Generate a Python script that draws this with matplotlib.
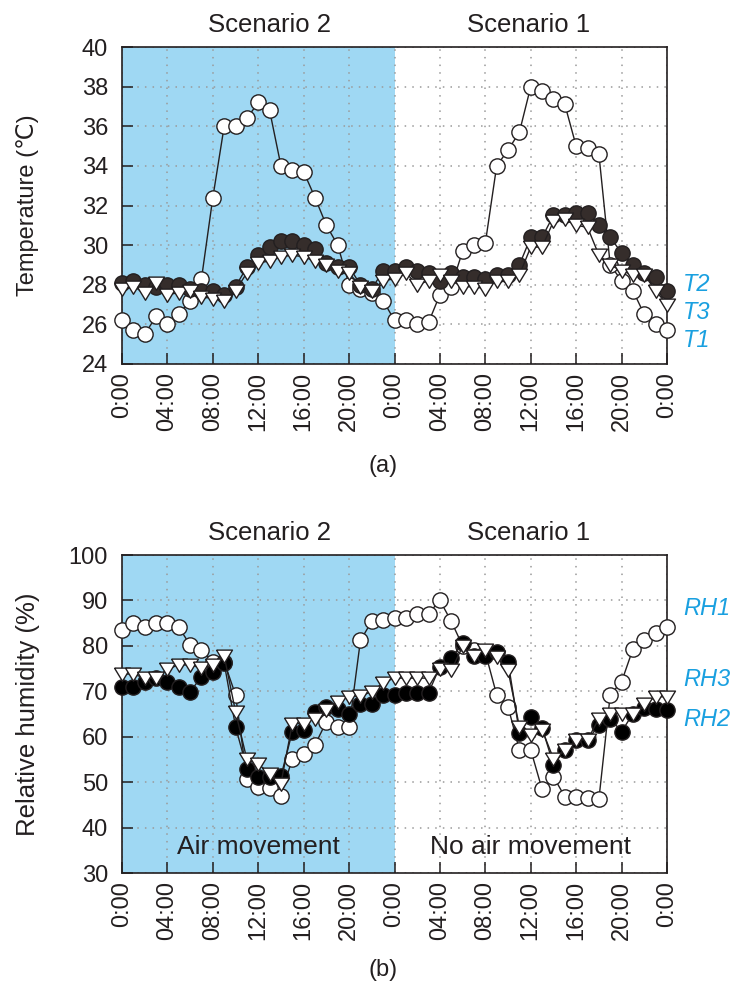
import numpy as np
import matplotlib
matplotlib.use("Agg")
import matplotlib.pyplot as plt

plt.rcParams["font.family"] = ["Liberation Sans", "DejaVu Sans"]

# hourly readings, two days (scenario 2 then scenario 1)
hours = np.arange(49)

t1 = [26.2, 25.7, 25.5, 26.4, 26.0, 26.5, 27.2, 28.3, 32.4, 36.0, 36.0, 36.4, 37.2,
      36.8, 34.0, 33.8, 33.7, 32.4, 31.0, 30.0, 28.0, 27.8, 27.6, 27.2, 26.2,
      26.2, 26.0, 26.1, 27.5, 27.9, 29.7, 30.0, 30.1, 34.0, 34.8, 35.7, 38.0,
      37.8, 37.4, 37.1, 35.0, 34.9, 34.6, 29.0, 28.2, 27.7, 26.5, 26.0, 25.7]
t2 = [28.1, 28.2, 28.0, 27.9, 28.0, 28.0, 27.8, 27.7, 27.7, 27.5, 27.9, 28.9, 29.5,
      29.9, 30.2, 30.2, 30.0, 29.8, 29.1, 28.9, 28.9, 28.0, 27.8, 28.7, 28.7,
      28.9, 28.7, 28.6, 28.2, 28.6, 28.4, 28.4, 28.3, 28.5, 28.5, 29.0, 30.4,
      30.4, 31.5, 31.5, 31.6, 31.6, 31.0, 30.4, 29.6, 29.0, 28.6, 28.4, 27.7]
t3 = [27.8, 27.9, 27.6, 28.1, 27.5, 27.6, 27.7, 27.4, 27.3, 27.2, 27.7, 28.6, 29.1,
      29.2, 29.4, 29.5, 29.4, 29.2, 29.0, 28.7, 28.6, 27.9, 27.7, 28.2, 28.3,
      28.6, 28.0, 28.2, 28.5, 28.2, 27.9, 27.9, 27.8, 28.2, 28.2, 28.5, 29.9,
      29.9, 31.2, 31.3, 31.0, 30.9, 29.5, 29.0, 28.7, 28.5, 28.5, 27.7, 27.0]

rh1 = [83.5, 85.1, 84.1, 85.1, 85.1, 84.1, 80.2, 79.1, 76.5, 76.5, 69.2, 50.8, 49.0,
       48.8, 47.0, 55.2, 56.2, 58.2, 63.3, 62.1, 62.1, 81.2, 85.4, 85.6, 86.1,
       86.1, 87.1, 87.1, 90.0, 85.4, 80.0, 79.0, 78.5, 69.2, 66.6, 57.1, 57.1,
       48.4, 51.2, 46.8, 46.8, 46.4, 46.2, 69.2, 72.1, 79.3, 81.2, 82.8, 84.1]
rh2 = [71.0, 71.0, 72.1, 72.9, 72.1, 71.0, 69.9, 73.2, 74.3, 76.2, 62.2, 53.0, 51.2,
       51.2, 51.3, 61.1, 61.5, 65.5, 66.6, 66.0, 65.1, 67.2, 67.2, 69.2, 69.2,
       69.7, 69.7, 69.7, 75.4, 77.3, 80.6, 77.8, 77.8, 78.7, 76.5, 60.9, 64.4,
       62.0, 53.8, 57.1, 59.3, 59.3, 62.5, 64.0, 61.1, 65.1, 66.4, 66.0, 65.9]
rh3 = [73.8, 73.8, 72.9, 72.9, 74.9, 75.8, 75.8, 75.1, 75.8, 77.8, 65.5, 55.0, 54.0,
       51.8, 49.7, 62.9, 62.9, 64.0, 65.9, 67.7, 68.8, 69.0, 69.9, 71.9, 72.9,
       72.9, 72.9, 72.9, 74.9, 74.6, 79.9, 77.8, 79.1, 77.6, 74.6, 62.2, 60.4,
       61.5, 55.2, 57.1, 59.3, 59.3, 64.0, 65.1, 65.1, 65.1, 67.2, 68.8, 68.8]

tick_hours = np.arange(0, 49, 4)
tick_labels = ["0:00", "04:00", "08:00", "12:00", "16:00", "20:00",
               "0:00", "04:00", "08:00", "12:00", "16:00", "20:00", "0:00"]

SHADE = "#9fd8f3"
LABEL_BLUE = "#1aa0e0"
INK = "#231f20"
FS = 17
FS_BIG = 18.5

tri = [(-1.0, 0.8), (1.0, 0.8), (0.0, -0.85), (-1.0, 0.8)]

fig = plt.figure(figsize=(7.35, 9.94), dpi=100)
W, H = 735, 994
ax1 = fig.add_axes([122 / W, 1 - 364 / H, 545 / W, 317 / H])
ax2 = fig.add_axes([122 / W, 1 - 873 / H, 545 / W, 318 / H])


def style_axes(ax, ylim, yticks):
    ax.axvspan(0, 24, color=SHADE, zorder=0, lw=0)
    ax.set_xlim(0, 48)
    ax.set_ylim(*ylim)
    ax.set_xticks(tick_hours)
    ax.set_xticklabels(tick_labels, rotation=90, fontsize=FS, color=INK)
    ax.set_yticks(yticks)
    ax.tick_params(axis="y", labelsize=FS, labelcolor=INK, pad=10)
    ax.tick_params(axis="x", pad=6)
    ax.tick_params(direction="in", length=8, width=1.1, color=INK)
    ax.grid(True, linestyle=(0, (1, 4)), color="#9a9a9a", linewidth=1.1, zorder=0.5)
    for s in ax.spines.values():
        s.set_linewidth(1.2)
        s.set_color(INK)


def series(ax, y, marker, face, ms, z):
    ax.plot(hours, y, color=INK, lw=1.0, marker=marker, markersize=ms,
            markerfacecolor=face, markeredgecolor=INK, markeredgewidth=1.0,
            zorder=z, clip_on=False)


# (a) temperature
style_axes(ax1, (24, 40), np.arange(24, 41, 2))
series(ax1, t1, "o", "white", 11, 3)
series(ax1, t2, "o", "#352d2b", 11, 4)
series(ax1, t3, tri, "white", 11.5, 5)
ax1.set_ylabel("Temperature (℃)", fontsize=FS, color=INK, labelpad=31)
for name, yv in [("T2", 28.0), ("T3", 26.6), ("T1", 25.2)]:
    ax1.text(49.4, yv, name, color=LABEL_BLUE, fontsize=FS, style="italic",
             ha="left", va="center", clip_on=False)

# (b) relative humidity
style_axes(ax2, (30, 100), np.arange(30, 101, 10))
series(ax2, rh1, "o", "white", 11, 3)
series(ax2, rh2, "o", "black", 11, 4)
series(ax2, rh3, tri, "white", 11.5, 5)
ax2.set_ylabel("Relative humidity (%)", fontsize=FS + 1.5, color=INK, labelpad=21)
for name, yv in [("RH1", 88.2), ("RH3", 72.5), ("RH2", 63.7)]:
    ax2.text(49.4, yv, name, color=LABEL_BLUE, fontsize=FS, style="italic",
             ha="left", va="center", clip_on=False)
ax2.text(12, 35.7, "Air movement", fontsize=FS_BIG + 0.5, color=INK, ha="center", va="center")
ax2.text(36, 35.7, "No air movement", fontsize=FS_BIG + 0.5, color=INK, ha="center", va="center")

# scenario headers and panel tags
for y in (25, 533):
    fig.text(270 / W, 1 - y / H, "Scenario 2", fontsize=FS_BIG, color=INK, ha="center", va="center")
    fig.text(529 / W, 1 - y / H, "Scenario 1", fontsize=FS_BIG, color=INK, ha="center", va="center")
fig.text(383 / W, 1 - 466 / H, "(a)", fontsize=FS, color=INK, ha="center", va="center")
fig.text(383 / W, 1 - 970 / H, "(b)", fontsize=FS, color=INK, ha="center", va="center")

fig.savefig("out.png", dpi=100)
